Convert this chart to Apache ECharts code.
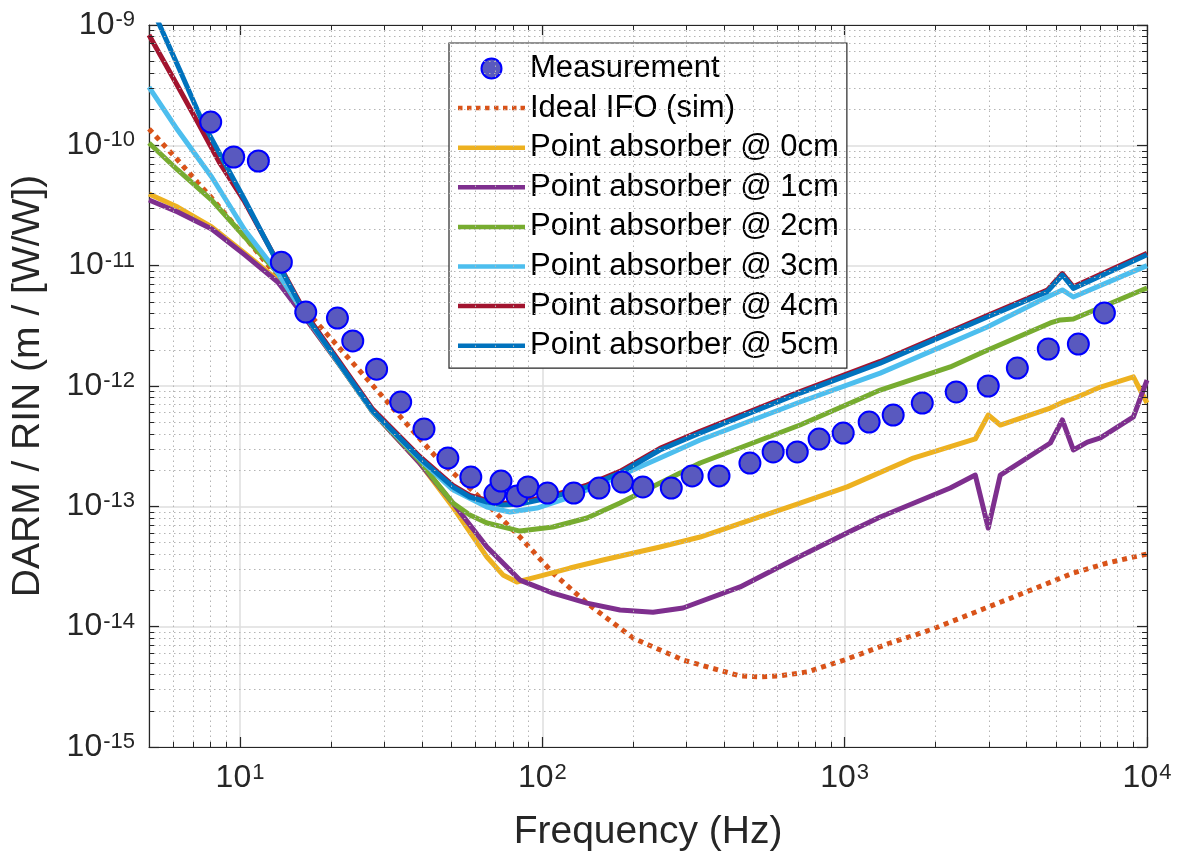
<!DOCTYPE html>
<html>
<head>
<meta charset="utf-8">
<script src="https://cdn.jsdelivr.net/npm/echarts@6/dist/echarts.min.js"></script>
<style>
html,body{margin:0;padding:0;background:#fff;}
#chart{width:1185px;height:862px;}
</style>
</head>
<body>
<div id="chart"></div>
<script>
// ---------------- data ----------------
const measFreq = [8.0, 9.53, 11.5, 13.7, 16.5, 21.0, 23.6, 28.3, 34.0, 40.6, 48.7, 58.0, 69.7, 73.0, 82.4, 89.6, 104, 127, 154, 184, 215, 267, 313, 384, 486, 580, 697, 823, 989, 1205, 1447, 1806, 2339, 2985, 3725, 4716, 5929, 7228];
const measVal = [1.56e-10, 8.0e-11, 7.41e-11, 1.07e-11, 4.12e-12, 3.67e-12, 2.37e-12, 1.38e-12, 7.36e-13, 4.39e-13, 2.52e-13, 1.75e-13, 1.27e-13, 1.62e-13, 1.22e-13, 1.45e-13, 1.29e-13, 1.29e-13, 1.42e-13, 1.59e-13, 1.45e-13, 1.42e-13, 1.79e-13, 1.79e-13, 2.29e-13, 2.83e-13, 2.83e-13, 3.62e-13, 4.06e-13, 5.02e-13, 5.74e-13, 7.22e-13, 8.92e-13, 1.0e-12, 1.41e-12, 2.03e-12, 2.23e-12, 4.05e-12];

const idealFreq = [5, 6.22, 8.06, 10.37, 13.33, 17.28, 28.35, 44.8, 65.6, 84.3, 108.4, 140.5, 199.5, 292, 451, 525, 603, 751, 995, 1414, 1918, 2662, 3896, 5703, 7391, 10000];
const idealVal = [1.37e-10, 7.55e-11, 3.65e-11, 1.73e-11, 8.05e-12, 3.74e-12, 9.26e-13, 2.52e-13, 1.045e-13, 5.56e-14, 2.79e-14, 1.57e-14, 8.04e-15, 5.28e-15, 3.89e-15, 3.82e-15, 3.89e-15, 4.2e-15, 5.28e-15, 7.31e-15, 9.38e-15, 1.30e-14, 1.90e-14, 2.79e-14, 3.38e-14, 4.02e-14];

const pa0Freq = [5, 6.22, 8.06, 10.37, 13.33, 16.63, 21.4, 27.5, 39.3, 50.6, 65.6, 74.1, 82.4, 96.0, 123.4, 158.7, 245, 332.5, 712, 1019, 1686, 2704, 2985, 3271, 4789, 5288, 5882, 7014, 9016, 10000];
const pa0Val = [3.94e-11, 3.07e-11, 2.1e-11, 1.27e-11, 7.6e-12, 3.54e-12, 1.49e-12, 6.08e-13, 2.29e-13, 9.87e-14, 3.79e-14, 2.69e-14, 2.35e-14, 2.59e-14, 3.07e-14, 3.58e-14, 4.59e-14, 5.56e-14, 1.065e-13, 1.45e-13, 2.52e-13, 3.63e-13, 5.74e-13, 4.74e-13, 6.56e-13, 7.36e-13, 8.1e-13, 9.8e-13, 1.19e-12, 7.22e-13];

const pa1Freq = [5, 6.22, 8.06, 10.37, 13.33, 16.63, 21.4, 27.5, 39.3, 50.6, 65.6, 84.3, 108.4, 140.5, 180.7, 232.3, 292, 451, 712, 1065, 1311, 2235, 2704, 2985, 3271, 4789, 5248, 5706, 6350, 7014, 9016, 10000];
const pa1Val = [3.51e-11, 2.79e-11, 2.02e-11, 1.23e-11, 7.31e-12, 3.54e-12, 1.49e-12, 6.08e-13, 2.29e-13, 1.065e-13, 4.59e-14, 2.44e-14, 1.90e-14, 1.57e-14, 1.375e-14, 1.32e-14, 1.43e-14, 2.14e-14, 3.85e-14, 6.36e-14, 8.15e-14, 1.42e-13, 1.82e-13, 6.6e-14, 1.82e-13, 3.36e-13, 5.22e-13, 2.94e-13, 3.42e-13, 3.7e-13, 5.53e-13, 1.12e-12];

const pa2Freq = [5, 6.22, 8.06, 10.37, 13.33, 16.63, 21.4, 27.5, 39.3, 44.8, 50.6, 57.6, 65.6, 84.3, 108.4, 140.5, 180.7, 245, 332.5, 712, 1311, 2235, 2874, 4789, 5168, 5706, 10000];
const pa2Val = [1.045e-10, 6.24e-11, 3.51e-11, 1.73e-11, 8.69e-12, 3.7e-12, 1.5e-12, 6.1e-13, 2.38e-13, 1.56e-13, 1.065e-13, 8.47e-14, 7.27e-14, 6.23e-14, 6.73e-14, 8.0e-14, 1.065e-13, 1.56e-13, 2.29e-13, 4.74e-13, 9.26e-13, 1.44e-12, 1.92e-12, 3.34e-12, 3.54e-12, 3.6e-12, 6.52e-12];

const pa3Freq = [5, 6.22, 8.06, 10.37, 13.33, 16.63, 21.4, 27.5, 39.3, 50.6, 65.6, 78.1, 96.0, 123.4, 158.7, 245, 332.5, 712, 1311, 2963, 4681, 5248, 5706, 10000];
const pa3Val = [3.05e-10, 1.34e-10, 5.46e-11, 1.98e-11, 8.69e-12, 3.7e-12, 1.5e-12, 6.1e-13, 2.47e-13, 1.37e-13, 9.87e-14, 8.97e-14, 9.68e-14, 1.195e-13, 1.56e-13, 2.52e-13, 3.56e-13, 7.36e-13, 1.28e-12, 3.09e-12, 5.49e-12, 6.28e-12, 5.49e-12, 1.0e-11];

const pa4Freq = [5, 6.22, 7.24, 8.57, 10.37, 13.33, 16.63, 21.4, 27.5, 39.3, 50.6, 57.6, 65.6, 74.1, 84.3, 108.4, 140.5, 180.7, 245, 332.5, 712, 1311, 2963, 4681, 5248, 5706, 10000];
const pa4Val = [8.26e-10, 3.11e-10, 1.56e-10, 7.13e-11, 3.38e-11, 1.07e-11, 3.85e-12, 1.57e-12, 6.4e-13, 2.6e-13, 1.49e-13, 1.23e-13, 1.12e-13, 1.06e-13, 1.08e-13, 1.23e-13, 1.5e-13, 1.95e-13, 3.03e-13, 4.2e-13, 9.0e-13, 1.6e-12, 3.85e-12, 6.27e-12, 8.6e-12, 6.67e-12, 1.27e-11];

const pa5Freq = [5, 5.42, 6.32, 7.52, 8.90, 10.37, 13.33, 16.63, 21.4, 27.5, 39.3, 50.6, 57.6, 65.6, 74.1, 84.3, 108.4, 140.5, 180.7, 245, 332.5, 712, 1311, 2963, 4681, 5248, 5706, 10000];
const pa5Val = [1.58e-9, 1.0e-9, 4.23e-10, 1.56e-10, 7.13e-11, 3.51e-11, 1.05e-11, 3.74e-12, 1.52e-12, 6.2e-13, 2.52e-13, 1.45e-13, 1.195e-13, 1.086e-13, 1.026e-13, 1.045e-13, 1.195e-13, 1.45e-13, 1.89e-13, 2.94e-13, 4.07e-13, 8.74e-13, 1.55e-12, 3.74e-12, 6.08e-12, 8.36e-12, 6.47e-12, 1.23e-11];

const seriesNames = ['Measurement', 'Ideal IFO (sim)', 'Point absorber @ 0cm', 'Point absorber @ 1cm', 'Point absorber @ 2cm', 'Point absorber @ 3cm', 'Point absorber @ 4cm', 'Point absorber @ 5cm'];
const seriesColors = ['#5959bf', '#D95319', '#EDB120', '#7E2F8E', '#77AC30', '#4DBEEE', '#A2142F', '#0072BD'];

// axis ranges / tick structure
const xMin = 5, xMax = 10000;
const yMin = 1e-15, yMax = 1e-9;
const minorMantissas = [2, 3, 4, 5, 6, 7, 8, 9];
const xDecades = [1, 10, 100, 1000];
const yDecades = [1e-15, 1e-14, 1e-13, 1e-12, 1e-11, 1e-10];

// ---------------- helpers ----------------
const FONT = "'Liberation Sans', Arial, Helvetica, sans-serif";
const AX = '#262626';
const LINE_W = 5;
const zip = (xs, ys) => xs.map((x, i) => [x, ys[i]]);

const xMinor = [];
xDecades.forEach(d => minorMantissas.forEach(m => { const v = m * d; if (v > xMin && v < xMax) xMinor.push(v); }));
const yMinor = [];
yDecades.forEach(d => minorMantissas.forEach(m => { yMinor.push(m * d); }));

const gridSegs = [];
xMinor.forEach(v => gridSegs.push([{ coord: [v, yMin] }, { coord: [v, yMax] }]));
yMinor.forEach(v => gridSegs.push([{ coord: [xMin, v] }, { coord: [xMax, v] }]));

const tickSegs = [];
const yTickF = 1.1, xTickF = 1.039;
xMinor.forEach(v => {
  tickSegs.push([{ coord: [v, yMin] }, { coord: [v, yMin * yTickF] }]);
  tickSegs.push([{ coord: [v, yMax] }, { coord: [v, yMax / yTickF] }]);
});
yMinor.forEach(v => {
  tickSegs.push([{ coord: [xMin, v] }, { coord: [xMin * xTickF, v] }]);
  tickSegs.push([{ coord: [xMax, v] }, { coord: [xMax / xTickF, v] }]);
});

function powLabel(v) {
  const e = Math.log10(v);
  const r = Math.round(e);
  if (Math.abs(e - r) > 1e-6) return '';
  return '{b|10}{s|' + r + '}';
}
const labelRich = {
  b: { fontSize: 32, lineHeight: 32, fontFamily: FONT, color: AX, verticalAlign: 'bottom' },
  s: { fontSize: 22, lineHeight: 22, fontFamily: FONT, color: AX, verticalAlign: 'top', padding: [0, 0, 24, 1] }
};

function lineSeries(name, xs, ys, color, dashed) {
  return {
    type: 'line', name: name, data: zip(xs, ys),
    symbol: 'none', showSymbol: false, z: 3, clip: true,
    color: color,
    lineStyle: dashed
      ? { color: color, width: 5, type: [5, 5], cap: 'butt', opacity: 1 }
      : { color: color, width: LINE_W, type: 'solid', opacity: 1, join: 'round' },
    itemStyle: { color: color },
    emphasis: { disabled: true }
  };
}

// legend icons: plain line segment, dotted segment, marker
const lineIcon = 'path://M0,0H67V4.5H0Z';
const dotIcon = 'path://M0,0h4.5v4.5h-4.5zM9,0h4.5v4.5h-4.5zM18,0h4.5v4.5h-4.5zM27,0h4.5v4.5h-4.5zM36,0h4.5v4.5h-4.5zM45,0h4.5v4.5h-4.5zM54,0h4.5v4.5h-4.5zM62.5,0h4.5v4.5h-4.5z';
const legendData = seriesNames.map((n, i) => {
  if (i === 0) return { name: n, icon: 'circle' };
  return { name: n, icon: i === 1 ? dotIcon : lineIcon, itemStyle: { color: seriesColors[i], borderWidth: 0 } };
});

const chart = echarts.init(document.getElementById('chart'), null, { renderer: 'canvas' });

const option = {
  animation: false,
  backgroundColor: '#ffffff',
  grid: { left: 149, right: 38, top: 25, bottom: 115, containLabel: false },
  xAxis: [
    {
      type: 'log', logBase: 10, min: xMin, max: xMax, position: 'bottom',
      name: 'Frequency (Hz)', nameLocation: 'middle', nameGap: 66,
      nameTextStyle: { fontSize: 39, fontFamily: FONT, color: AX },
      axisLine: { show: true, onZero: false, lineStyle: { color: AX, width: 1.2 } },
      axisTick: { show: true, inside: true, length: 10, lineStyle: { color: AX, width: 1.2 } },
      axisLabel: { show: true, margin: 15, formatter: powLabel, rich: labelRich, showMinLabel: false },
      splitLine: { show: true, lineStyle: { color: '#dedede', width: 1.5 } }
    },
    {
      type: 'log', logBase: 10, min: xMin, max: xMax, position: 'top',
      axisLine: { show: true, onZero: false, lineStyle: { color: AX, width: 1.2 } },
      axisTick: { show: true, inside: true, length: 10, lineStyle: { color: AX, width: 1.2 } },
      axisLabel: { show: false }, splitLine: { show: false }
    }
  ],
  yAxis: [
    {
      type: 'log', logBase: 10, min: yMin, max: yMax, position: 'left',
      name: 'DARM / RIN (m / [W/W])', nameLocation: 'middle', nameGap: 101,
      nameTextStyle: { fontSize: 39, fontFamily: FONT, color: AX },
      axisLine: { show: true, onZero: false, lineStyle: { color: AX, width: 1.2 } },
      axisTick: { show: true, inside: true, length: 10, lineStyle: { color: AX, width: 1.2 } },
      axisLabel: { show: true, margin: 14, formatter: powLabel, rich: labelRich },
      splitLine: { show: true, lineStyle: { color: '#dedede', width: 1.5 } }
    },
    {
      type: 'log', logBase: 10, min: yMin, max: yMax, position: 'right',
      axisLine: { show: true, onZero: false, lineStyle: { color: AX, width: 1.2 } },
      axisTick: { show: true, inside: true, length: 10, lineStyle: { color: AX, width: 1.2 } },
      axisLabel: { show: false }, splitLine: { show: false }
    }
  ],
  legend: {
    show: true, orient: 'vertical', left: 449, top: 43,
    data: legendData,
    itemWidth: 67, itemHeight: 20, itemGap: 8.6,
    padding: [10, 8, 7, 9],
    backgroundColor: '#ffffff', borderColor: AX, borderWidth: 1.2, borderRadius: 0,
    selectedMode: false,
    textStyle: { fontSize: 31, lineHeight: 30, fontFamily: FONT, color: '#000000' }
  },
  series: [
    {
      type: 'line', name: '_grid', data: [[xMin, yMin]], symbol: 'none', z: 1,
      lineStyle: { width: 0, opacity: 0 }, silent: true,
      markLine: {
        silent: true, symbol: ['none', 'none'], animation: false,
        label: { show: false }, emphasis: { disabled: true },
        lineStyle: { color: '#b4b4b4', width: 1, type: [1.5, 3.5] },
        data: gridSegs
      }
    },
    {
      type: 'line', name: '_ticks', data: [[xMin, yMin]], symbol: 'none', z: 6,
      lineStyle: { width: 0, opacity: 0 }, silent: true,
      markLine: {
        silent: true, symbol: ['none', 'none'], animation: false,
        label: { show: false }, emphasis: { disabled: true },
        lineStyle: { color: AX, width: 1, type: 'solid' },
        data: tickSegs
      }
    },
    {
      type: 'scatter', name: seriesNames[0], data: zip(measFreq, measVal),
      symbol: 'circle', symbolSize: 21, z: 5,
      itemStyle: { color: seriesColors[0], borderColor: '#0000ff', borderWidth: 2, opacity: 1 },
      emphasis: { disabled: true }
    },
    lineSeries(seriesNames[1], idealFreq, idealVal, seriesColors[1], true),
    lineSeries(seriesNames[2], pa0Freq, pa0Val, seriesColors[2]),
    lineSeries(seriesNames[3], pa1Freq, pa1Val, seriesColors[3]),
    lineSeries(seriesNames[4], pa2Freq, pa2Val, seriesColors[4]),
    lineSeries(seriesNames[5], pa3Freq, pa3Val, seriesColors[5]),
    lineSeries(seriesNames[6], pa4Freq, pa4Val, seriesColors[6]),
    lineSeries(seriesNames[7], pa5Freq, pa5Val, seriesColors[7])
  ]
};
chart.setOption(option);
</script>
</body>
</html>
